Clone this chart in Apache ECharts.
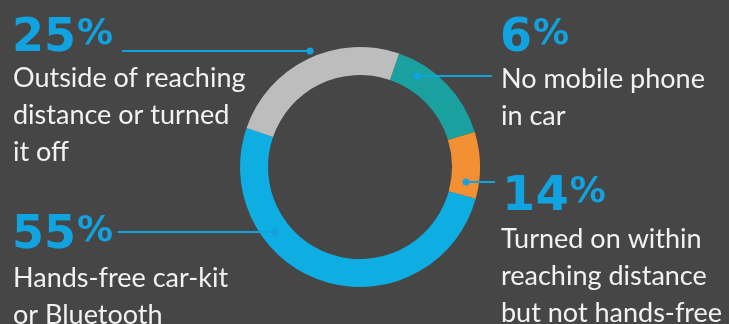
<!DOCTYPE html>
<html>
<head>
<meta charset="utf-8">
<script src="https://cdn.jsdelivr.net/npm/echarts@6/dist/echarts.min.js"></script>
<style>
html,body{margin:0;padding:0;background:#464646;}
#c{width:729px;height:324px;}
</style>
</head>
<body>
<div id="c"></div>
<script>
// Slice order clockwise from the top-right
var categories = ['No mobile phone in car', 'Turned on within reaching distance but not hands-free', 'Hands-free car-kit or Bluetooth', 'Outside of reaching distance or turned off'];
// arc sizes as drawn in the picture (share of the ring)
var arcValues = [15, 9, 51, 25];
// printed percentages
var printedPct = ['6', '14', '55', '25'];
var descLines = [
  ['No mobile phone', 'in car'],
  ['Turned on within', 'reaching distance', 'but not hands-free'],
  ['Hands-free car-kit', 'or Bluetooth'],
  ['Outside of reaching', 'distance or turned', 'it off']
];
var sliceColors = ['#1aa09f', '#f39033', '#0eaee3', '#bdbdbd'];

var BLUE = '#10a3e0';
var WHITE = '#f2f2f2';
var BODY_FONT = '400 27px Lato, "Open Sans", sans-serif';

var ann = [
  {nx: 500, ny: 16, ns: 46, dx: 501, db: 88, dot: [417, 76], lx: 492},
  {nx: 502, ny: 174, ns: 48, dx: 501, db: 248, dot: [466, 182], lx: 495},
  {nx: 12, ny: 213, ns: 46, dx: 13, db: 287, dot: [275, 232], lx: 118},
  {nx: 12, ny: 16, ns: 46, dx: 13, db: 87, dot: [310, 51], lx: 122}
];

var graphics = [];
ann.forEach(function (a, i) {
  graphics.push({type: 'line', shape: {x1: a.lx, y1: a.dot[1], x2: a.dot[0], y2: a.dot[1]}, style: {stroke: BLUE, lineWidth: 2}, z: 10});
  graphics.push({type: 'circle', shape: {cx: a.dot[0], cy: a.dot[1], r: 3.5}, style: {fill: BLUE}, z: 11});
  var numFont = 'bold ' + a.ns + 'px "DejaVu Sans", sans-serif';
  graphics.push({type: 'text', x: a.nx, y: a.ny, style: {text: printedPct[i], font: numFont, fill: BLUE, align: 'left', verticalAlign: 'top', textAlign: 'left', textVerticalAlign: 'top'}, z: 12});
  graphics.push({type: 'text', x: a.nx + printedPct[i].length * a.ns * 0.696 + 1, y: a.ny + 1, style: {text: '%', font: 'bold 36px "DejaVu Sans", sans-serif', fill: BLUE, align: 'left', verticalAlign: 'top', textAlign: 'left', textVerticalAlign: 'top'}, z: 12});
  descLines[i].forEach(function (t, k) {
    graphics.push({type: 'text', x: a.dx, y: a.db + k * 37 - 9, style: {text: t, font: BODY_FONT, fill: WHITE, align: 'left', verticalAlign: 'middle', textAlign: 'left', textVerticalAlign: 'middle'}, z: 12});
  });
});

var chart = echarts.init(document.getElementById('c'), null, {renderer: 'canvas'});
chart.setOption({
  backgroundColor: '#464646',
  animation: false,
  series: [{
    type: 'pie',
    center: [360, 167],
    radius: [92, 120],
    startAngle: 71,
    clockwise: true,
    silent: true,
    label: {show: false},
    labelLine: {show: false},
    itemStyle: {borderWidth: 0},
    data: categories.map(function (c, i) {
      return {name: c, value: arcValues[i], itemStyle: {color: sliceColors[i]}};
    })
  }],
  graphic: graphics
});
</script>
</body>
</html>
